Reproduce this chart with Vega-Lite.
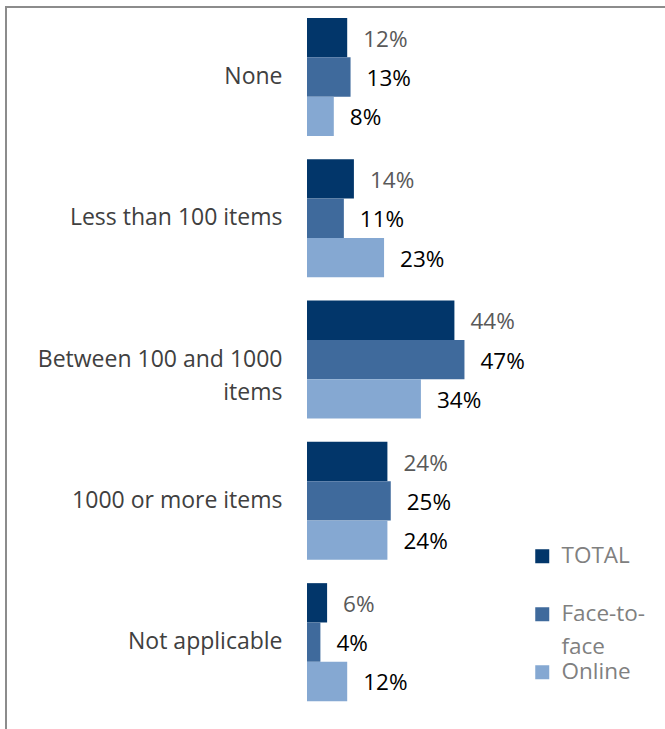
{
  "$schema": "https://vega.github.io/schema/vega-lite/v6.json",
  "width": 700,
  "height": 760,
  "padding": {"left": 6, "top": 7, "right": 0, "bottom": 0},
  "autosize": {"type": "none"},
  "background": "white",
  "config": {
    "view": {"stroke": "#8c8c8c", "strokeWidth": 2},
    "font": "Open Sans",
    "style": {"guide-label": {"lineHeight": 33}}
  },
  "data": {
    "values": [
      {"category": "None", "series": "TOTAL", "value": 12},
      {"category": "None", "series": "Face-to-face", "value": 13},
      {"category": "None", "series": "Online", "value": 8},
      {"category": "Less than 100 items", "series": "TOTAL", "value": 14},
      {"category": "Less than 100 items", "series": "Face-to-face", "value": 11},
      {"category": "Less than 100 items", "series": "Online", "value": 23},
      {"category": "Between 100 and 1000 items", "series": "TOTAL", "value": 44},
      {"category": "Between 100 and 1000 items", "series": "Face-to-face", "value": 47},
      {"category": "Between 100 and 1000 items", "series": "Online", "value": 34},
      {"category": "1000 or more items", "series": "TOTAL", "value": 24},
      {"category": "1000 or more items", "series": "Face-to-face", "value": 25},
      {"category": "1000 or more items", "series": "Online", "value": 24},
      {"category": "Not applicable", "series": "TOTAL", "value": 6},
      {"category": "Not applicable", "series": "Face-to-face", "value": 4},
      {"category": "Not applicable", "series": "Online", "value": 12}
    ]
  },
  "encoding": {
    "y": {
      "field": "category",
      "type": "nominal",
      "sort": ["None", "Less than 100 items", "Between 100 and 1000 items", "1000 or more items", "Not applicable"],
      "scale": {"paddingInner": 0.165, "paddingOuter": 0.272, "align": 0.143},
      "axis": {
        "title": null,
        "domain": false,
        "ticks": false,
        "labelPadding": -276,
        "labelAlign": "right",
        "labelFontSize": 23,
        "labelColor": "#404040",
        "labelLineHeight": 33,
        "labelLimit": 400,
        "labelExpr": "datum.label == 'Between 100 and 1000 items' ? ['Between 100 and 1000', 'items'] : datum.label"
      }
    },
    "yOffset": {
      "field": "series",
      "type": "nominal",
      "sort": ["TOTAL", "Face-to-face", "Online"],
      "scale": {"paddingInner": 0, "paddingOuter": 0}
    },
    "x": {
      "field": "value",
      "type": "quantitative",
      "scale": {"domain": [-89.85, 119.1], "nice": false, "zero": false},
      "axis": null
    }
  },
  "layer": [
    {
      "mark": {"type": "bar"},
      "encoding": {
        "x2": {"datum": 0},
        "color": {
          "field": "series",
          "type": "nominal",
          "sort": ["TOTAL", "Face-to-face", "Online"],
          "scale": {"domain": ["TOTAL", "Face-to-face", "Online"], "range": ["#02366a", "#3f6a9c", "#85a8d2"]},
          "legend": {
            "title": null,
            "orient": "none",
            "legendX": 525,
            "legendY": 538,
            "symbolType": "square",
            "symbolSize": 196,
            "symbolStrokeWidth": 0,
            "symbolOpacity": 1,
            "labelFontSize": 22.5,
            "labelColor": "#808080",
            "labelOffset": 8,
            "rowPadding": 2,
            "labelExpr": "datum.label == 'Face-to-face' ? ['Face-to-', 'face'] : datum.label == 'TOTAL' ? ['TOTAL', ''] : datum.label"
          }
        }
      }
    },
    {
      "transform": [{"calculate": "datum.value + '%'", "as": "label"}],
      "mark": {"type": "text", "align": "left", "baseline": "middle", "dx": 16, "dy": 2, "fontSize": 22.5},
      "encoding": {
        "text": {"field": "label", "type": "nominal"},
        "color": {
          "condition": {"test": "datum.series == 'TOTAL'", "value": "#595959"},
          "value": "#000000"
        }
      }
    }
  ]
}
